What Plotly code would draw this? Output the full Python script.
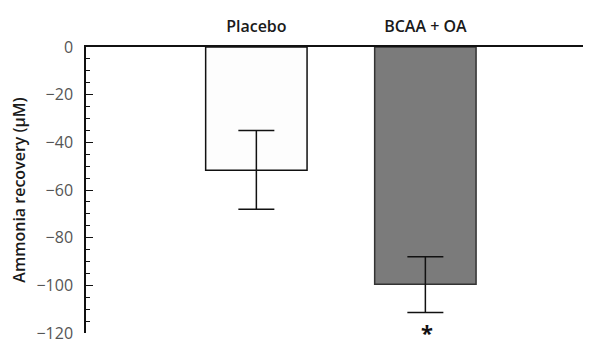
import plotly.graph_objects as go

groups = ["Placebo", "BCAA + OA"]
means = [-51.7, -99.5]
err_up = [16.7, 11.5]
err_down = [16.4, 11.9]
fills = ["#fdfdfd", "#7b7b7b"]
outlines = ["#111111", "#333333"]
ytick_vals = [0, -20, -40, -60, -80, -100, -120]
ytick_text = ["0", "\u221220", "\u221240", "\u221260", "\u221280", "\u2212100", "\u2212120"]
xpos = [0, 1]

fig = go.Figure()
fig.add_trace(go.Bar(
    x=xpos, y=means, width=0.6,
    marker=dict(color=fills, line=dict(color=outlines, width=1.5)),
    error_y=dict(type="data", symmetric=False, array=err_up,
                 arrayminus=err_down, color="#111111", thickness=1.5, width=18),
    showlegend=False,
))

fig.add_annotation(x=1, y=means[1] - err_down[1], text="*", showarrow=False,
                   yanchor="top", yshift=-2, xshift=2,
                   font=dict(size=22, color="#111111", family="Noto Sans", weight=700))

# page body has an 8px margin, so the figure is sized/margined to compensate
fig.update_layout(
    width=583, height=339,
    margin=dict(l=78, r=0, t=39, b=14, autoexpand=False),
    plot_bgcolor="white", paper_bgcolor="white",
    font=dict(family="Open Sans", size=14, color="#444444"),
    xaxis=dict(side="top", range=[-1.008, 1.98], tickvals=xpos,
               ticktext=groups,
               showline=True, linecolor="#111111", linewidth=1.5,
               ticks="", showgrid=False, zeroline=False,
               tickfont=dict(size=16, color="#1a1a1a", weight=600, family="Open Sans"),
               ticklabelstandoff=7),
    yaxis=dict(range=[-120, 0], tickvals=ytick_vals, ticktext=ytick_text,
               showline=True, linecolor="#111111", linewidth=1.5,
               ticks="inside", ticklen=7, tickwidth=1.2, tickcolor="#111111",
               minor=dict(dtick=5, ticks="inside", ticklen=4, tickwidth=1, tickcolor="#111111"),
               showgrid=False, zeroline=False,
               tickfont=dict(size=16, color="#555555", family="Open Sans"), ticklabelstandoff=8,
               title=dict(text="Ammonia recovery (µM)", standoff=9,
                          font=dict(size=16, color="#1a1a1a", weight=600, family="Open Sans"))),
)

fig.write_html("out.html")
